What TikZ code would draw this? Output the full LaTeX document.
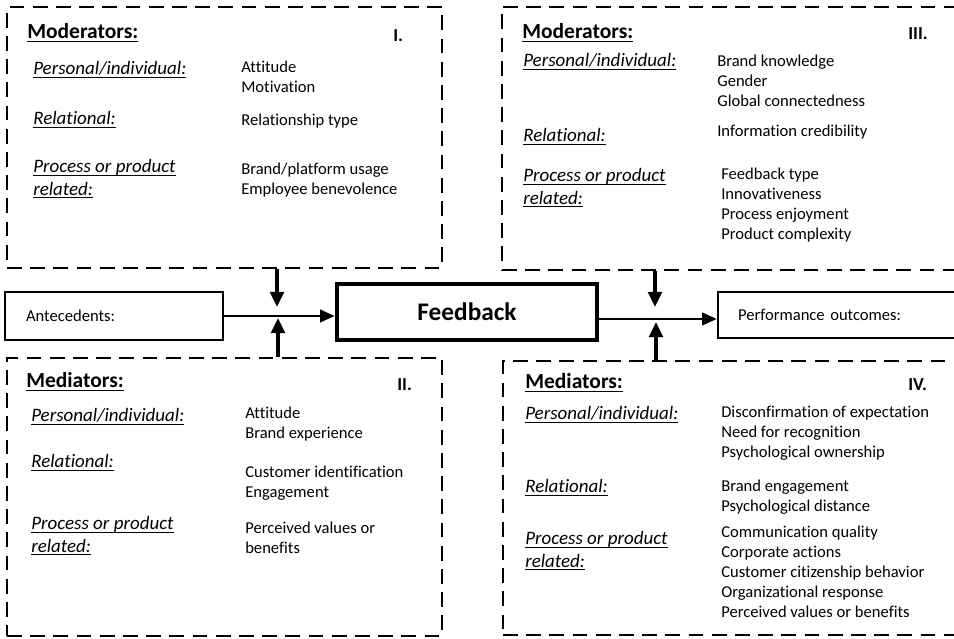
\documentclass[tikz,border=0pt]{standalone}
\usepackage{fontspec}
\setmainfont{Carlito}[Ligatures={NoCommon}]
\usetikzlibrary{arrows.meta}

\newcommand{\undr}[1]{\setbox0\hbox{#1}\rlap{\rule[-1.9pt]{\wd0}{0.8pt}}\box0}
\newcommand{\lst}[1]{\begin{tabular}[t]{@{}l@{}}#1\end{tabular}}

\begin{document}
\begin{tikzpicture}[
  dashbox/.style={draw,line width=2pt,dash pattern=on 0.37cm off 0.21cm,inner sep=0pt},
  flowbox/.style={draw,line width=2pt,inner ysep=0pt,align=left,font=\fontsize{11.8}{14}\selectfont},
  push/.style={-{Triangle[length=0.38cm,width=0.34cm]},line width=2.8pt},
  flow/.style={-{Triangle[length=0.36cm,width=0.32cm]},line width=0.9pt},
  head/.style={anchor=base west,inner sep=0pt,font=\fontsize{15.3}{18}\selectfont\bfseries},
  numeral/.style={anchor=base west,inner sep=0pt,font=\fontsize{13}{15}\selectfont\bfseries},
  cat/.style={anchor=base west,inner sep=0pt,font=\fontsize{13.5}{15.8}\selectfont\itshape},
  item/.style={anchor=base west,inner sep=0pt,font=\fontsize{11.8}{14.2}\selectfont}]
\useasboundingbox (0,0) rectangle (23.85,15.975);

% dashed panels
\node[dashbox,minimum width=10.875cm,minimum height=6.525cm] (modI) at (5.6125,12.5375) {};
\node[dashbox,minimum width=11.7cm,minimum height=6.575cm] (modIII) at (18.4,12.5125) {};
\node[dashbox,minimum width=10.875cm,minimum height=6.95cm] (medII) at (5.6125,3.55) {};
\node[dashbox,minimum width=11.675cm,minimum height=6.85cm] (medIV) at (18.4125,3.525) {};

% middle row
\node[flowbox,minimum height=1.2cm,text width=4.4cm,inner xsep=0.525cm] (ante) at (2.85,8.075) {Antecedents:};
\node[flowbox,line width=3.5pt,minimum width=6.5cm,minimum height=1.4cm,font=\fontsize{18}{20}\selectfont\bfseries] (fb) at (11.675,8.175) {Feedback};
\node[flowbox,minimum height=1.15cm,text width=5.55cm,inner xsep=0.5cm] (perf) at (21.225,8.1) {Performance outcomes:};

\coordinate (outR) at ([yshift=-0.1cm]perf.west);
\draw[flow] (ante.east) -- (ante.east -| fb.west);
\draw[flow] (outR -| fb.east) -- (outR);

\coordinate (tipI) at (6.925,8.3);
\coordinate (tipII) at (6.95,8.025);
\coordinate (tipIII) at (16.375,8.3);
\coordinate (tipIV) at (16.4,7.925);
\draw[push] (tipI |- modI.south) -- (tipI);
\draw[push] (tipII |- medII.north) -- (tipII);
\draw[push] (tipIII |- modIII.south) -- (tipIII);
\draw[push] (tipIV |- medIV.north) -- (tipIV);

% I.
\node[head] (modIt) at (0.675,15.0) {\undr{Moderators:}};
\node[numeral] (modIn) at (9.825,14.925) {I.};
\node[cat] (modIa) at (0.825,14.1) {\undr{Personal/individual:}};
\node[item] (modIax) at (6.025,14.15) {\lst{Attitude\\Motivation}};
\node[cat] (modIb) at (0.825,12.85) {\undr{Relational:}};
\node[item] (modIbx) at (6.025,12.825) {Relationship type};
\node[cat] (modIc) at (0.825,11.65) {\lst{\undr{Process or product}\\\undr{related:}}};
\node[item] (modIcx) at (6.025,11.6) {\lst{Brand/platform usage\\Employee benevolence}};

% III.
\node[head] (modIIIt) at (13.05,15.0) {\undr{Moderators:}};
\node[numeral] (modIIIn) at (22.7,14.975) {III.};
\node[cat] (modIIIa) at (13.075,14.3) {\undr{Personal/individual:}};
\node[item] (modIIIax) at (17.925,14.3) {\lst{Brand knowledge\\Gender\\Global connectedness}};
\node[cat] (modIIIb) at (13.075,12.425) {\undr{Relational:}};
\node[item] (modIIIbx) at (17.925,12.55) {Information credibility};
\node[cat] (modIIIc) at (13.075,11.425) {\lst{\undr{Process or product}\\\undr{related:}}};
\node[item] (modIIIcx) at (18.025,11.475) {\lst{Feedback type\\Innovativeness\\Process enjoyment\\Product complexity}};

% II.
\node[head] (medIIt) at (0.65,6.275) {\undr{Mediators:}};
\node[numeral] (medIIn) at (9.925,6.2) {II.};
\node[cat] (medIIa) at (0.775,5.425) {\undr{Personal/individual:}};
\node[item] (medIIax) at (6.125,5.5) {\lst{Attitude\\Brand experience}};
\node[cat] (medIIb) at (0.775,4.275) {\undr{Relational:}};
\node[item] (medIIbx) at (6.125,4.025) {\lst{Customer identification\\Engagement}};
\node[cat] (medIIc) at (0.775,2.725) {\lst{\undr{Process or product}\\\undr{related:}}};
\node[item] (medIIcx) at (6.125,2.625) {\lst{Perceived values or\\benefits}};

% IV.
\node[head] (medIVt) at (13.125,6.25) {\undr{Mediators:}};
\node[numeral] (medIVn) at (22.7,6.2) {IV.};
\node[cat] (medIVa) at (13.125,5.475) {\undr{Personal/individual:}};
\node[item] (medIVax) at (18.025,5.525) {\lst{Disconfirmation of expectation\\Need for recognition\\Psychological ownership}};
\node[cat] (medIVb) at (13.125,3.65) {\undr{Relational:}};
\node[item] (medIVbx) at (18.025,3.675) {\lst{Brand engagement\\Psychological distance}};
\node[cat] (medIVc) at (13.125,2.35) {\lst{\undr{Process or product}\\\undr{related:}}};
\node[item] (medIVcx) at (18.025,2.525) {\lst{Communication quality\\Corporate actions\\Customer citizenship behavior\\Organizational response\\Perceived values or benefits}};
\end{tikzpicture}
\end{document}
